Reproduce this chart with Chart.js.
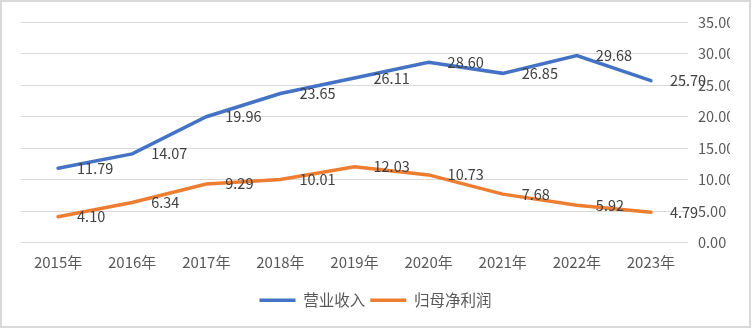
<!DOCTYPE html>
<html>
<head>
<meta charset="utf-8">
<script src="https://cdn.jsdelivr.net/npm/chart.js@4/dist/chart.umd.min.js"></script>
<style>
  html, body { margin: 0; padding: 0; background: #fff; }
  #box { position: absolute; left: 0; top: 0; width: 751px; height: 328px; box-sizing: border-box; border: 2px solid #d9d9d9; }
  #chart { display: block; }
</style>
</head>
<body>
<div id="box"><canvas id="chart" width="747" height="324"></canvas></div>
<script>
const years = ["2015年", "2016年", "2017年", "2018年", "2019年", "2020年", "2021年", "2022年", "2023年"];
const revenue = [11.79, 14.07, 19.96, 23.65, 26.11, 28.60, 26.85, 29.68, 25.70];
const netProfit = [4.10, 6.34, 9.29, 10.01, 12.03, 10.73, 7.68, 5.92, 4.79];
const yTicks = [0, 5, 10, 15, 20, 25, 30, 35];

const FONT = '"Noto Sans CJK SC", "Noto Sans", sans-serif';

// value labels to the right of each point
const valueLabels = {
  id: 'valueLabels',
  afterDatasetsDraw(chart) {
    const ctx = chart.ctx;
    ctx.save();
    ctx.font = '14.5px ' + FONT;
    ctx.fillStyle = '#404040';
    ctx.textAlign = 'left';
    ctx.textBaseline = 'middle';
    chart.data.datasets.forEach((ds, i) => {
      chart.getDatasetMeta(i).data.forEach((pt, j) => {
        ctx.fillText(ds.data[j].toFixed(2), pt.x + 19, pt.y);
      });
    });
    ctx.restore();
  }
};

new Chart(document.getElementById('chart'), {
  type: 'line',
  data: {
    labels: years,
    datasets: [
      { label: '营业收入', data: revenue, borderColor: '#4472C4', backgroundColor: '#4472C4',
        borderWidth: 3.5, borderCapStyle: 'round', pointRadius: 0, tension: 0 },
      { label: '归母净利润', data: netProfit, borderColor: '#ED7D31', backgroundColor: '#ED7D31',
        borderWidth: 3.5, borderCapStyle: 'round', pointRadius: 0, tension: 0 }
    ]
  },
  options: {
    responsive: false,
    animation: false,
    // symmetric side padding keeps the legend centred on the canvas
    layout: { padding: { left: 19, right: 19, top: 20, bottom: 8 } },
    plugins: {
      tooltip: { enabled: false },
      legend: {
        position: 'bottom',
        labels: {
          usePointStyle: true, pointStyle: 'line', pointStyleWidth: 36,
          padding: 5, color: '#595959', font: { family: FONT, size: 15.5 }
        }
      }
    },
    scales: {
      x: {
        offset: true,
        afterFit: s => { s.height = 45; },
        grid: { display: false },
        border: { display: false },
        ticks: { color: '#595959', font: { family: FONT, size: 15 }, padding: 3, maxRotation: 0 }
      },
      y: {
        position: 'right',
        min: 0, max: 35,
        afterBuildTicks: s => { s.ticks = yTicks.map(v => ({ value: v })); },
        afterFit: s => { s.width = 42; },
        grid: { color: '#d9d9d9', lineWidth: 1, drawTicks: false },
        border: { display: false },
        ticks: { color: '#595959', font: { family: FONT, size: 14.5 }, padding: 10,
          callback: v => v.toFixed(2) }
      }
    }
  },
  plugins: [valueLabels]
});
</script>
</body>
</html>
